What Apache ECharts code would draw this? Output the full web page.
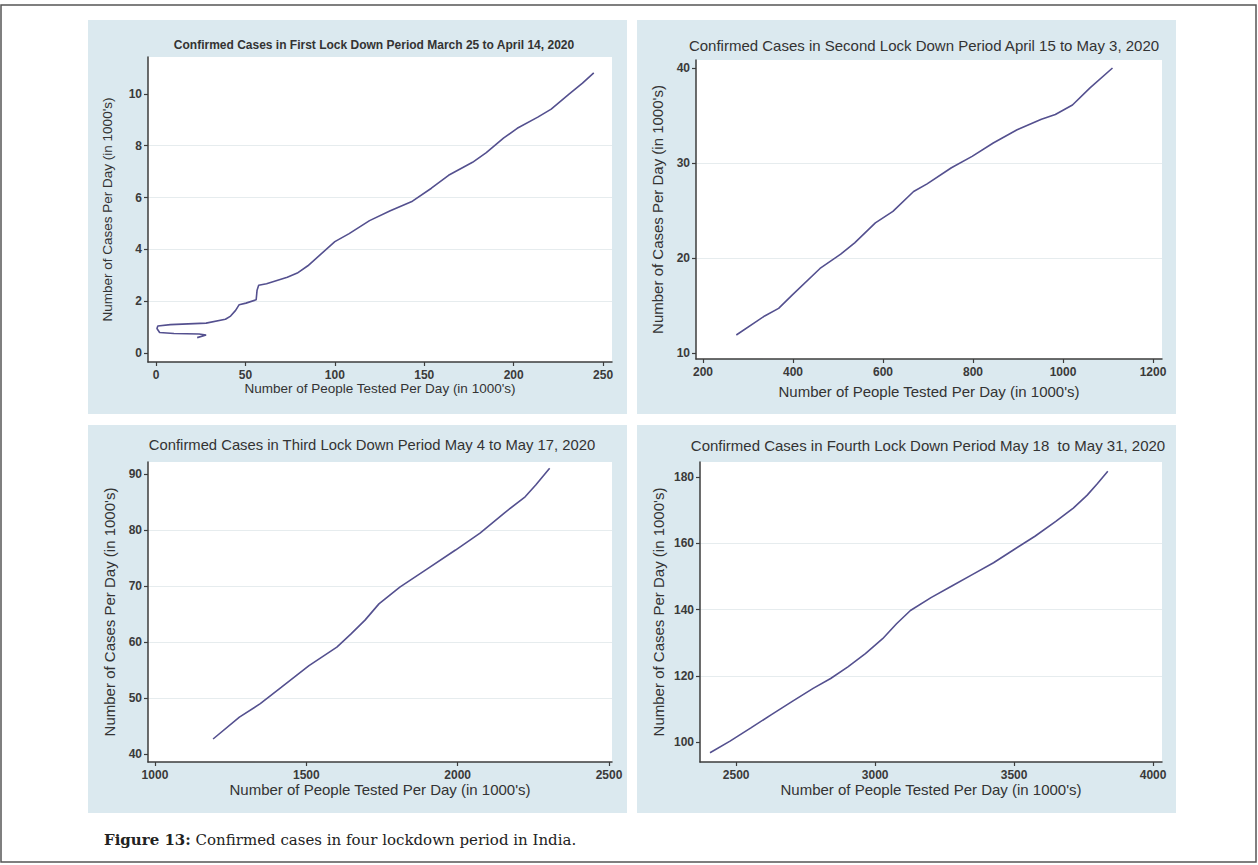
<!DOCTYPE html>
<html><head><meta charset="utf-8">
<script src="https://cdn.jsdelivr.net/npm/echarts@6/dist/echarts.min.js"></script>
<style>html,body{margin:0;padding:0;background:#fff}#c{width:1258px;height:865px}</style>
</head><body><div id="c"></div>
<script>
// ---------- data ----------
const panelTitles = [
  "Confirmed Cases in First Lock Down Period March 25 to April 14, 2020",
  "Confirmed Cases in Second Lock Down Period April 15 to May 3, 2020",
  "Confirmed Cases in Third Lock Down Period May 4 to May 17, 2020",
  "Confirmed Cases in Fourth Lock Down Period May 18  to May 31, 2020"
];
const xAxisName = "Number of People Tested Per Day (in 1000's)";
const yAxisName = "Number of Cases Per Day (in 1000's)";
const caption = "Confirmed cases in four lockdown period in India.";
const captionLabel = "Figure 13:";

// Panel 1: first lockdown
const p1Tested = [23, 28, 24, 10, 2, 0.5, 1, 8, 18, 28, 38.8, 41.7, 44.5, 46.5, 50.3, 56, 56.5, 57.4, 61.8, 73.4, 79, 84.9, 100, 108, 119.4, 131, 143.4, 154, 163.6, 177, 184.7, 194.3, 202, 213.5, 221, 230.8, 238.5, 244.8];
const p1Cases  = [0.6, 0.7, 0.74, 0.76, 0.8, 0.95, 1.05, 1.1, 1.13, 1.16, 1.31, 1.43, 1.65, 1.87, 1.93, 2.06, 2.43, 2.62, 2.68, 2.93, 3.09, 3.37, 4.3, 4.61, 5.11, 5.49, 5.86, 6.36, 6.86, 7.36, 7.73, 8.29, 8.67, 9.1, 9.41, 9.98, 10.41, 10.81];
// Panel 2: second lockdown
const p2Tested = [274, 337, 368, 398, 460, 506, 537, 583, 622, 668, 698, 752, 798, 845, 898, 952, 983, 1021, 1060, 1110];
const p2Cases  = [11.9, 13.9, 14.7, 16.1, 18.9, 20.4, 21.6, 23.7, 24.9, 27.0, 27.8, 29.5, 30.7, 32.1, 33.5, 34.6, 35.1, 36.1, 37.9, 40.0];
// Panel 3: third lockdown
const p3Tested = [1192, 1279, 1348, 1417, 1509, 1601, 1647, 1694, 1740, 1809, 1901, 1993, 2074, 2154, 2223, 2258, 2304];
const p3Cases  = [42.7, 46.6, 49.0, 51.9, 55.8, 59.1, 61.4, 63.9, 66.8, 69.8, 73.1, 76.4, 79.4, 83.0, 85.9, 88.0, 91.0];
// Panel 4: fourth lockdown
const p4Tested = [2406, 2478, 2553, 2627, 2702, 2777, 2840, 2902, 2965, 3027, 3077, 3127, 3201, 3276, 3351, 3426, 3500, 3575, 3650, 3713, 3763, 3800, 3837];
const p4Cases  = [96.8, 100.3, 104.3, 108.3, 112.3, 116.2, 119.2, 122.7, 126.7, 131.2, 135.7, 139.7, 143.6, 147.1, 150.6, 154.1, 158.1, 162.1, 166.6, 170.6, 174.5, 178.0, 181.7];

// tick labels
const p1XTicks = [0, 50, 100, 150, 200, 250];
const p1YTicks = [0, 2, 4, 6, 8, 10];
const p2XTicks = [200, 400, 600, 800, 1000, 1200];
const p2YTicks = [10, 20, 30, 40];
const p3XTicks = [1000, 1500, 2000, 2500];
const p3YTicks = [40, 50, 60, 70, 80, 90];
const p4XTicks = [2500, 3000, 3500, 4000];
const p4YTicks = [100, 120, 140, 160, 180];

// ---------- layout ----------
const panels = [
  {x: p1Tested, y: p1Cases, xt: p1XTicks, yt: p1YTicks, xs: 50, ys: 2,
   xr: [-4.5, 255], yr: [-0.34, 11.42],
   grid: {left: 148, top: 57, width: 464, height: 305},
   bg: [88, 20, 539, 394], title: [374, 45], titleSize: 12, titleWeight: 'bold',
   xNameGap: 17, yNameGap: 34, nameSize: 13.5},
  {x: p2Tested, y: p2Cases, xt: p2XTicks, yt: p2YTicks, xs: 200, ys: 10,
   xr: [184.4, 1220], yr: [9.37, 40.84],
   grid: {left: 696, top: 60, width: 466, height: 299},
   bg: [637, 20, 539, 394], title: [924, 45], titleSize: 15, titleWeight: 'normal',
   xNameGap: 25, yNameGap: 31, nameSize: 15},
  {x: p3Tested, y: p3Cases, xt: p3XTicks, yt: p3YTicks, xs: 500, ys: 10,
   xr: [977, 2510], yr: [38.6, 92.1],
   grid: {left: 148, top: 462, width: 464, height: 300},
   bg: [88, 425, 539, 388], title: [372, 445], titleSize: 14.8, titleWeight: 'normal',
   xNameGap: 18, yNameGap: 31, nameSize: 15},
  {x: p4Tested, y: p4Cases, xt: p4XTicks, yt: p4YTicks, xs: 500, ys: 20,
   xr: [2370, 4032], yr: [94, 184.5],
   grid: {left: 700, top: 462, width: 462, height: 300},
   bg: [637, 425, 539, 388], title: [928, 445], titleSize: 15, titleWeight: 'normal',
   xNameGap: 18, yNameGap: 34, nameSize: 15}
];

const FONT = "'Liberation Sans', Arial, sans-serif";
const axisColor = '#3c3c3c';
const lineColor = '#54508f';
const plain = v => String(v);

const grids = [], xAxes = [], yAxes = [], series = [], graphics = [];

panels.forEach((p, i) => {
  graphics.push({type: 'rect', z: -10, silent: true,
    shape: {x: p.bg[0], y: p.bg[1], width: p.bg[2], height: p.bg[3]},
    style: {fill: '#dbe9ef'}});
  graphics.push({type: 'text', silent: true, x: p.title[0], y: p.title[1],
    style: {text: panelTitles[i], align: 'center', verticalAlign: 'middle',
      font: p.titleWeight + ' ' + p.titleSize + 'px ' + FONT, fill: '#333'}});
  grids.push(Object.assign({show: true, backgroundColor: '#ffffff', borderWidth: 0}, p.grid));
  xAxes.push({
    type: 'value', gridIndex: i, min: p.xr[0], max: p.xr[1],
    minInterval: p.xs, maxInterval: p.xs,
    axisLine: {show: true, onZero: false, lineStyle: {color: axisColor, width: 1.5}},
    axisTick: {show: true, customValues: p.xt, length: 4, lineStyle: {color: axisColor, width: 1.2}},
    axisLabel: {customValues: p.xt, formatter: plain, margin: 7, color: '#3a3a3a', fontSize: 12, fontWeight: 'bold', fontFamily: FONT},
    splitLine: {show: false},
    name: xAxisName, nameLocation: 'middle', nameGap: p.xNameGap,
    nameTextStyle: {color: '#333', fontSize: p.nameSize, fontFamily: FONT}
  });
  yAxes.push({
    type: 'value', gridIndex: i, min: p.yr[0], max: p.yr[1],
    minInterval: p.ys, maxInterval: p.ys,
    axisLine: {show: true, onZero: false, lineStyle: {color: axisColor, width: 1.5}},
    axisTick: {show: true, customValues: p.yt, length: 4, lineStyle: {color: axisColor, width: 1.2}},
    axisLabel: {customValues: p.yt, formatter: plain, margin: 6, color: '#3a3a3a', fontSize: 12, fontWeight: 'bold', fontFamily: FONT},
    splitLine: {show: true, showMinLine: false, showMaxLine: false, lineStyle: {color: '#e6ecee', width: 1.2}},
    name: yAxisName, nameLocation: 'middle', nameGap: p.yNameGap, nameRotate: 90,
    nameTextStyle: {color: '#333', fontSize: p.nameSize, fontFamily: FONT}
  });
  series.push({
    type: 'line', xAxisIndex: i, yAxisIndex: i,
    data: p.x.map((v, k) => [v, p.y[k]]),
    showSymbol: false, symbol: 'none', animation: false,
    lineStyle: {color: lineColor, width: 1.6}
  });
});

// frame and caption
graphics.push({type: 'rect', silent: true, z: 5,
  shape: {x: 1, y: 5, width: 1255, height: 857},
  style: {fill: 'none', stroke: '#555', lineWidth: 1.5}});
graphics.push({type: 'text', silent: true, x: 104, y: 840,
  style: {text: '{b|' + captionLabel + '} ' + caption, verticalAlign: 'middle',
    font: "15px 'DejaVu Serif', serif", fill: '#222',
    rich: {b: {fontWeight: 'bold', fontSize: 15, fontFamily: "'DejaVu Serif', serif", fill: '#222'}}}});

const chart = echarts.init(document.getElementById('c'), null, {renderer: 'svg'});
chart.setOption({
  backgroundColor: '#ffffff',
  animation: false,
  grid: grids, xAxis: xAxes, yAxis: yAxes, series: series,
  graphic: {elements: graphics}
});
</script></body></html>
